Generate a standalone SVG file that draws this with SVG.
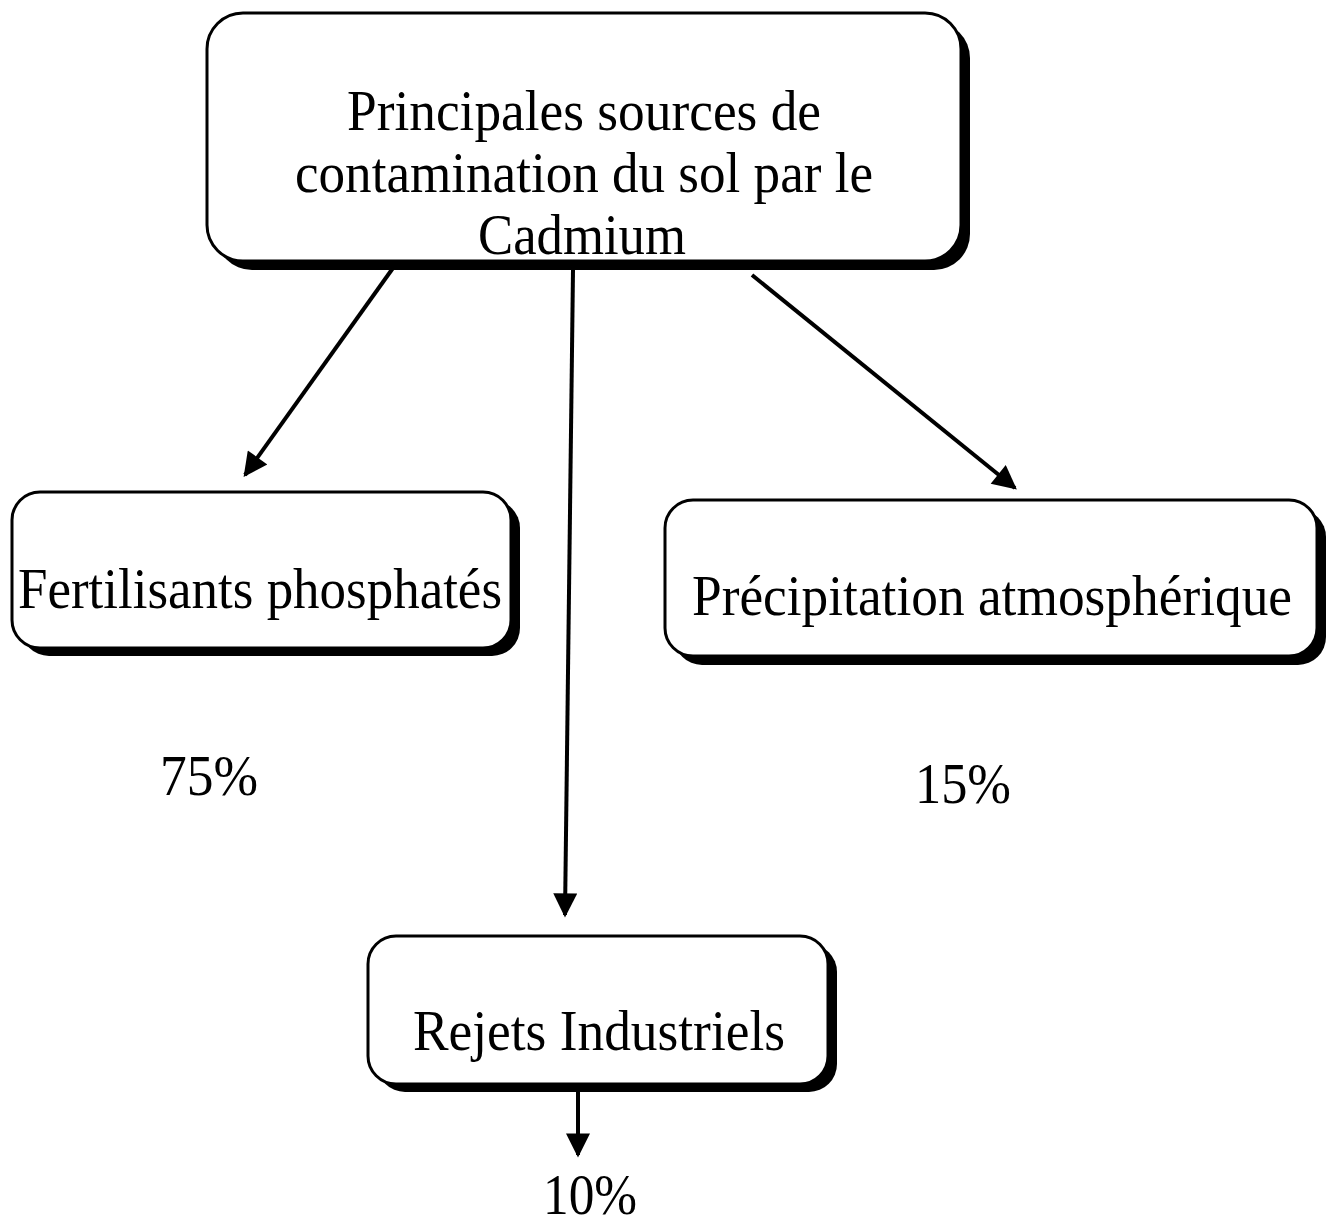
<svg xmlns="http://www.w3.org/2000/svg" width="1329" height="1224" viewBox="0 0 1329 1224">
<style>
.box{fill:#fff;stroke:#000;stroke-width:3}
.shadow{fill:#000}
.t{font-family:"Liberation Serif","Times New Roman",serif;font-size:56px;fill:#000;text-anchor:middle}
.conn{stroke:#000;stroke-width:4;fill:none}
</style>
<defs>
<marker id="ah" viewBox="0 0 10 10" refX="9" refY="5" markerWidth="6.5" markerHeight="6" markerUnits="strokeWidth" orient="auto">
<path d="M0,0 L10,5 L0,10 z" fill="#000"/>
</marker>
</defs>
<rect width="1329" height="1224" fill="#fff"/>
<g id="connectors">
<line class="conn" x1="393" y1="268" x2="245" y2="475" marker-end="url(#ah)"/>
<line class="conn" x1="573" y1="270" x2="565" y2="915" marker-end="url(#ah)"/>
<line class="conn" x1="752" y1="275" x2="1015" y2="488" marker-end="url(#ah)"/>
<line class="conn" x1="578" y1="1090" x2="578" y2="1155" marker-end="url(#ah)"/>
</g>
<g id="node-principales">
<rect class="shadow" x="216" y="22" width="754" height="248" rx="36"/>
<rect class="box" x="207" y="13" width="754" height="248" rx="36"/>
<text class="t" x="584" y="130" textLength="474" lengthAdjust="spacingAndGlyphs">Principales sources de</text>
<text class="t" x="584" y="192" textLength="578" lengthAdjust="spacingAndGlyphs">contamination du sol par le</text>
<text class="t" x="582" y="254" textLength="208" lengthAdjust="spacingAndGlyphs">Cadmium</text>
</g>
<g id="node-fertilisants">
<rect class="shadow" x="21" y="500" width="499" height="156" rx="28"/>
<rect class="box" x="12" y="492" width="499" height="156" rx="28"/>
<text class="t" x="260" y="608" textLength="484" lengthAdjust="spacingAndGlyphs">Fertilisants phosphatés</text>
</g>
<g id="node-precipitation">
<rect class="shadow" x="674" y="509" width="652" height="156" rx="28"/>
<rect class="box" x="665" y="500" width="652" height="156" rx="28"/>
<text class="t" x="992" y="615" textLength="600" lengthAdjust="spacingAndGlyphs">Précipitation atmosphérique</text>
</g>
<g id="node-rejets">
<rect class="shadow" x="377" y="944" width="460" height="148" rx="28"/>
<rect class="box" x="368" y="936" width="460" height="148" rx="28"/>
<text class="t" x="599" y="1050" textLength="372" lengthAdjust="spacingAndGlyphs">Rejets Industriels</text>
</g>
<g id="labels">
<text class="t" x="209" y="795" textLength="98" lengthAdjust="spacingAndGlyphs">75%</text>
<text class="t" x="963" y="803" textLength="96" lengthAdjust="spacingAndGlyphs">15%</text>
<text class="t" x="590" y="1214" textLength="94" lengthAdjust="spacingAndGlyphs">10%</text>
</g>
</svg>
